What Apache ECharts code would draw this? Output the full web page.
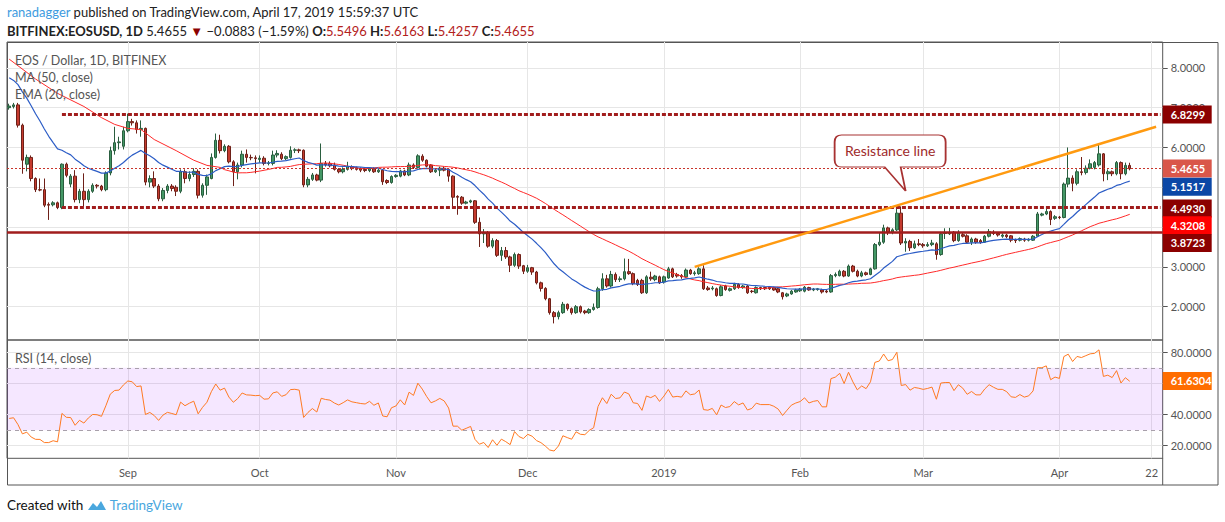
<!DOCTYPE html>
<html>
<head>
<meta charset="utf-8">
<title>EOS / Dollar, 1D</title>
<script src="https://cdn.jsdelivr.net/npm/echarts/dist/echarts.min.js"></script>
<style>
  body { margin: 0; width: 1225px; height: 522px; background: #fff; position: relative; overflow: hidden; font-family: Lato, "Open Sans", sans-serif; }
  #chart { position: absolute; left: 0; top: 0; width: 1225px; height: 522px; }
  .hdr { position: absolute; left: 7px; white-space: nowrap; color: #222; font-size: 13px; line-height: 18px; z-index: 2; }
  .red { color: #b3211b; }
  #ftr { position: absolute; left: 7px; top: 496px; font-size: 13.5px; line-height: 18px; color: #111; white-space: nowrap; z-index: 2; }
  #ftr .tv { color: #4aa7de; }
</style>
</head>
<body>
<div class="hdr" style="top:3px"><span style="color:#3d9be0">ranadagger</span> published on TradingView.com, April 17, 2019 15:59:37 UTC</div>
<div class="hdr" style="top:22px"><b>BITFINEX:EOSUSD, 1D</b> 5.4655 <span style="color:#8b0000">&#9660;</span> &minus;0.0883 (&minus;1.59%) <b>O:</b><span class="red">5.5496</span> <b>H:</b><span class="red">5.6163</span> <b>L:</b><span class="red">5.4257</span> <b>C:</b><span class="red">5.4655</span></div>
<div id="chart"></div>
<div id="ftr">Created with <svg width="20" height="12" viewBox="0 0 20 12" style="vertical-align:-1px"><path d="M1 11 L6 4 L10 8 L14 2 L19 11 Z" fill="#4aa7de"/></svg> <span class="tv">TradingView</span></div>
<script>
// daily candles, 2018-08-05 .. 2019-04-17 (BITFINEX EOSUSD)
const startDay = '2018-08-05';
const slotCount = 263; // visible time range incl. empty space on the right

const opens = [
  7.00,7.03,7.07,6.56,5.58,5.75,5.22,4.94,4.94,4.57,
  4.56,4.61,4.49,5.58,5.08,5.28,4.69,4.90,4.69,4.90,
  5.05,5.03,4.94,5.36,5.92,6.12,6.03,6.42,6.65,6.62,
  6.45,6.48,5.13,5.22,5.03,4.71,4.92,5.03,5.00,4.90,
  5.39,5.22,5.32,5.40,4.80,5.05,5.22,5.75,6.18,5.92,
  6.03,5.64,5.39,5.56,5.83,5.75,5.74,5.70,5.73,5.60,
  5.60,5.81,5.83,5.72,5.75,5.93,5.94,5.93,5.06,5.20,
  5.31,5.18,5.60,5.60,5.56,5.45,5.39,5.45,5.52,5.49,
  5.47,5.45,5.42,5.47,5.39,5.43,5.17,5.12,5.27,5.28,
  5.41,5.31,5.56,5.50,5.78,5.68,5.56,5.39,5.43,5.48,
  5.45,5.28,4.77,4.75,4.60,4.63,4.66,4.12,3.83,3.86,
  3.52,3.66,3.29,3.41,3.25,3.04,3.31,3.03,2.89,2.98,
  2.87,2.60,2.46,2.20,1.85,1.75,1.85,2.06,1.95,1.85,
  2.00,1.89,1.85,1.93,1.98,2.45,2.70,2.52,2.81,2.68,
  2.70,2.88,2.83,2.66,2.66,2.35,2.74,2.68,2.75,2.62,
  2.72,2.95,2.81,2.78,2.75,2.92,2.83,2.83,2.95,2.47,
  2.45,2.45,2.28,2.52,2.41,2.45,2.56,2.48,2.52,2.39,
  2.35,2.48,2.48,2.49,2.48,2.45,2.35,2.27,2.32,2.37,
  2.40,2.39,2.48,2.42,2.43,2.42,2.39,2.37,2.78,2.78,
  2.89,2.77,3.02,2.89,2.77,2.85,2.81,2.95,3.56,3.62,
  3.98,3.87,3.93,4.35,3.60,3.64,3.48,3.58,3.56,3.53,
  3.56,3.58,3.31,3.84,3.83,3.87,3.66,3.81,3.78,3.62,
  3.70,3.66,3.62,3.77,3.87,3.84,3.77,3.80,3.78,3.68,
  3.67,3.70,3.67,3.67,3.77,4.30,4.33,4.39,4.22,4.25,
  4.24,5.08,5.23,5.10,5.39,5.37,5.48,5.50,5.56,5.84,
  5.34,5.39,5.34,5.62,5.34,5.5496
];
const closes = [
  7.04,7.07,6.56,5.68,5.75,5.22,4.94,4.93,4.55,4.55,
  4.61,4.49,5.58,5.30,5.28,4.69,4.90,4.69,4.90,5.05,
  5.03,4.94,5.36,5.92,6.12,6.14,6.42,6.65,6.62,6.45,
  6.48,5.13,5.22,5.03,4.71,4.92,5.03,4.97,4.90,5.39,
  5.22,5.32,5.40,4.80,5.05,5.26,5.75,6.18,5.92,6.03,
  5.64,5.39,5.56,5.83,5.75,5.74,5.72,5.73,5.60,5.61,
  5.81,5.85,5.72,5.77,5.93,5.94,5.92,5.06,5.20,5.31,
  5.18,5.60,5.56,5.54,5.45,5.39,5.45,5.52,5.47,5.45,
  5.43,5.42,5.47,5.39,5.43,5.14,5.12,5.27,5.30,5.41,
  5.31,5.56,5.50,5.79,5.68,5.53,5.39,5.43,5.48,5.43,
  5.28,4.75,4.75,4.60,4.63,4.66,4.12,3.83,3.86,3.52,
  3.66,3.29,3.41,3.25,3.04,3.31,3.02,2.89,2.98,2.87,
  2.60,2.46,2.20,1.85,1.75,1.85,2.06,1.95,1.85,2.00,
  1.87,1.85,1.93,1.98,2.45,2.70,2.52,2.81,2.68,2.70,
  2.88,2.83,2.58,2.56,2.35,2.75,2.70,2.77,2.60,2.75,
  2.95,2.75,2.77,2.75,2.92,2.83,2.85,2.95,2.45,2.43,
  2.47,2.28,2.50,2.43,2.45,2.56,2.48,2.52,2.35,2.38,
  2.48,2.45,2.45,2.45,2.42,2.37,2.25,2.32,2.39,2.42,
  2.44,2.49,2.42,2.44,2.45,2.37,2.37,2.78,2.81,2.89,
  2.77,3.02,2.89,2.77,2.85,2.81,2.95,3.56,3.62,3.98,
  3.87,3.93,4.35,3.60,3.64,3.48,3.58,3.56,3.53,3.56,
  3.60,3.31,3.83,3.85,3.85,3.66,3.85,3.77,3.62,3.70,
  3.62,3.62,3.77,3.89,3.84,3.80,3.80,3.76,3.67,3.66,
  3.71,3.67,3.69,3.77,4.33,4.33,4.39,4.19,4.26,4.24,
  5.08,5.23,5.10,5.39,5.37,5.48,5.59,5.62,5.84,5.34,
  5.39,5.34,5.62,5.34,5.55,5.4655
];
const highs = [
  7.10,7.12,7.12,6.60,5.82,5.80,5.25,5.22,5.22,4.62,
  4.65,4.64,5.60,5.62,5.33,5.43,4.96,5.35,4.95,5.10,
  5.08,5.06,5.40,6.02,6.52,6.27,6.52,6.85,6.72,6.68,
  6.68,6.50,5.30,5.40,5.08,4.98,5.08,5.08,5.05,5.45,
  5.45,5.40,5.48,5.45,5.10,5.32,5.85,6.35,6.32,6.08,
  6.06,5.68,5.62,5.92,5.95,5.82,5.80,5.80,5.78,5.66,
  5.92,5.93,5.88,5.80,6.03,5.98,5.97,5.95,5.26,5.36,
  5.34,6.10,5.66,5.65,5.62,5.48,5.50,5.64,5.55,5.52,
  5.50,5.48,5.50,5.50,5.46,5.46,5.20,5.30,5.33,5.44,
  5.44,5.62,5.60,5.83,5.83,5.70,5.58,5.47,5.52,5.52,
  5.48,5.30,4.80,4.78,4.66,4.69,4.68,4.24,3.95,3.90,
  3.72,3.70,3.50,3.50,3.28,3.36,3.34,3.05,3.05,3.00,
  2.90,2.63,2.49,2.22,1.89,1.90,2.12,2.08,1.98,2.04,
  2.03,1.92,1.96,2.08,2.50,2.84,2.80,2.90,2.86,2.76,
  3.21,3.20,2.86,2.70,2.70,2.79,2.88,2.80,2.78,2.78,
  3.00,2.98,2.85,2.82,2.96,2.95,2.90,2.99,3.04,2.52,
  2.52,2.48,2.54,2.55,2.48,2.60,2.59,2.55,2.55,2.42,
  2.51,2.50,2.50,2.52,2.50,2.47,2.37,2.35,2.42,2.45,
  2.47,2.52,2.50,2.47,2.47,2.45,2.42,2.82,2.86,2.93,
  2.92,3.06,3.05,2.93,2.90,2.88,2.98,3.60,3.85,4.06,
  4.01,3.97,4.52,4.52,3.72,3.68,3.66,3.70,3.60,3.62,
  3.68,3.62,3.88,3.97,3.98,3.90,3.92,3.86,3.82,3.74,
  3.73,3.70,3.80,3.95,3.92,3.87,3.84,3.83,3.80,3.71,
  3.74,3.73,3.72,3.80,4.38,4.36,4.48,4.42,4.30,4.28,
  5.12,6.00,5.30,5.45,5.76,5.55,5.70,5.66,6.11,5.86,
  5.45,5.42,5.66,5.65,5.62,5.6163
];
const lows = [
  6.95,6.98,6.50,5.34,5.40,5.15,4.88,4.90,4.50,4.18,
  4.52,4.45,4.45,5.25,5.00,4.62,4.60,4.52,4.62,4.86,
  4.97,4.90,4.90,5.30,5.82,5.95,5.95,6.38,6.55,6.35,
  6.27,5.05,5.00,4.98,4.65,4.65,4.85,4.90,4.78,4.85,
  5.10,5.15,5.26,4.72,4.74,4.81,5.20,5.72,5.85,5.88,
  5.60,5.03,5.20,5.50,5.62,5.68,5.35,5.62,5.55,5.55,
  5.55,5.75,5.68,5.68,5.72,5.86,5.86,5.00,5.00,5.16,
  5.15,5.13,5.52,5.50,5.42,5.35,5.35,5.42,5.43,5.42,
  5.38,5.38,5.38,5.36,5.36,5.06,5.08,5.09,5.24,5.25,
  5.28,5.28,5.46,5.47,5.64,5.50,5.36,5.36,5.28,5.40,
  5.14,4.47,4.31,4.56,4.57,4.60,4.08,3.50,3.60,3.48,
  3.47,3.25,3.15,3.20,2.87,3.00,2.95,2.82,2.85,2.80,
  2.56,2.38,2.16,1.80,1.58,1.68,1.82,1.90,1.80,1.82,
  1.83,1.81,1.82,1.90,1.95,2.40,2.48,2.48,2.62,2.62,
  2.66,2.80,2.54,2.52,2.32,2.32,2.65,2.64,2.57,2.58,
  2.70,2.72,2.73,2.70,2.72,2.80,2.78,2.80,2.42,2.40,
  2.41,2.25,2.26,2.40,2.38,2.42,2.45,2.45,2.32,2.34,
  2.33,2.42,2.42,2.42,2.40,2.34,2.18,2.24,2.30,2.35,
  2.37,2.36,2.40,2.39,2.40,2.33,2.34,2.35,2.74,2.76,
  2.74,2.75,2.86,2.74,2.74,2.78,2.79,2.93,3.52,3.58,
  3.80,3.82,3.90,3.55,3.38,3.40,3.45,3.52,3.48,3.50,
  3.52,3.18,3.28,3.70,3.80,3.62,3.63,3.74,3.58,3.55,
  3.58,3.58,3.60,3.74,3.80,3.76,3.73,3.72,3.62,3.60,
  3.64,3.63,3.64,3.65,3.75,4.27,4.30,4.05,4.18,4.20,
  4.22,5.00,4.90,5.05,5.30,5.32,5.45,5.45,5.52,5.15,
  5.18,5.28,5.30,5.20,5.30,5.4257
];

// indicator values before enough history is on screen
const ma50Head = [[0, 8.22], [6, 7.72], [11, 7.36], [17, 7.03], [21, 6.75], [24, 6.58],
  [27, 6.48], [30, 6.45], [33, 6.20], [38, 5.92], [42, 5.68], [45, 5.55], [48, 5.50]];
const emaSeed = 7.75;
const rsiSeed = [0.12, 0.20]; // avg gain, avg loss at first bar

// levels and labels
const resistance = [[156, 3.00], [261, 6.52]];
const levelTop = 6.8299, levelMid = 4.4930, levelLow = 3.8723;
const lastClose = 5.4655, lastEma = 5.1517, lastMa = 4.3208, lastRsi = 61.6304;
const priceTicks = [2, 3, 4, 5, 6, 7, 8];
const rsiTicks = [20, 40, 60, 80];
const rsiLabels = [20, 40, 80]; // 60 sits under the last-value tag
const calloutAt = [204, 4.907];

const FONT = 'Lato, "Open Sans", sans-serif';
const months = ['Jan','Feb','Mar','Apr','May','Jun','Jul','Aug','Sep','Oct','Nov','Dec'];

const dates = [];
const t0 = Date.parse(startDay + 'T00:00:00Z');
for (let i = 0; i < slotCount; i++) {
  dates.push(new Date(t0 + i * 86400000).toISOString().slice(0, 10));
}
function isMark(v) { return v.slice(8) === '01' || v === '2019-04-22'; }
function markText(v) {
  if (v === '2019-04-22') return '22';
  const m = +v.slice(5, 7);
  return m === 1 ? v.slice(0, 4) : months[m - 1];
}

const candles = opens.map((o, i) => [o, closes[i], lows[i], highs[i]]);

// EMA 20
const ema20 = [];
let e = emaSeed;
for (let i = 0; i < closes.length; i++) {
  if (i > 0) e = e + (2 / 21) * (closes[i] - e);
  ema20.push(+e.toFixed(4));
}
// MA 50
const ma50 = closes.map(() => null);
ma50Head.forEach(([i, v]) => { ma50[i] = v; });
for (let i = 49; i < closes.length; i++) {
  let s = 0;
  for (let j = i - 49; j <= i; j++) s += closes[j];
  ma50[i] = +(s / 50).toFixed(4);
}
// RSI 14 (Wilder)
const rsi14 = [];
let ag = rsiSeed[0], al = rsiSeed[1];
rsi14.push(+(100 - 100 / (1 + ag / al)).toFixed(2));
for (let i = 1; i < closes.length; i++) {
  const ch = closes[i] - closes[i - 1];
  ag = (ag * 13 + Math.max(ch, 0)) / 14;
  al = (al * 13 + Math.max(-ch, 0)) / 14;
  rsi14.push(+(100 - 100 / (1 + ag / al)).toFixed(2));
}

function tag(text, bg, dy) {
  return {
    show: true, position: 'end', distance: 0, formatter: text,
    color: '#fff', fontWeight: 'bold', fontSize: 11, fontFamily: FONT,
    backgroundColor: bg, padding: [3, 4, 3, 8], width: 37, height: 12, lineHeight: 12,
    offset: [0, dy]
  };
}
const noLine = { color: 'rgba(0,0,0,0)', width: 1, type: 'solid' };
const darkRed = '#a11d1d';

const gridLine = { show: true, lineStyle: { color: '#e6e6e6', width: 1 } };
const xCommon = {
  type: 'category', data: dates, boundaryGap: true,
  axisLine: { show: false }, axisTick: { show: false },
  splitLine: { show: true, interval: (i, v) => isMark(v), alignWithLabel: true, lineStyle: { color: '#e6e6e6' } }
};

const chart = echarts.init(document.getElementById('chart'), null, { renderer: 'svg' });
chart.setOption({
  animation: false,
  backgroundColor: '#fff',
  grid: [
    { left: 7, top: 42, width: 1155.7, height: 298, show: true, borderColor: '#555', borderWidth: 1, outerBoundsMode: 'none', containLabel: false },
    { left: 7, top: 340, width: 1155.7, height: 118.3, show: true, borderColor: '#555', borderWidth: 1, outerBoundsMode: 'none', containLabel: false }
  ],
  xAxis: [
    Object.assign({ gridIndex: 0, axisLabel: { show: false } }, xCommon),
    Object.assign({ gridIndex: 1, axisLabel: { show: true, interval: (i, v) => isMark(v), formatter: markText, color: '#555', fontSize: 11, fontFamily: FONT, margin: 9 } }, xCommon)
  ],
  yAxis: [
    {
      gridIndex: 0, type: 'value', position: 'right', min: 1.163, max: 8.65, scale: true,
      axisLine: { show: false },
      axisTick: { show: true, length: 5, customValues: priceTicks, lineStyle: { color: '#555' } },
      axisLabel: { customValues: priceTicks, formatter: v => v.toFixed(4), color: '#555', fontSize: 11, fontFamily: FONT, margin: 8 },
      splitLine: gridLine
    },
    {
      gridIndex: 1, type: 'value', position: 'right', min: 11.9, max: 87.9,
      axisLine: { show: false },
      axisTick: { show: true, length: 5, customValues: rsiTicks, lineStyle: { color: '#555' } },
      axisLabel: { customValues: rsiLabels, formatter: v => v.toFixed(4), color: '#555', fontSize: 11, fontFamily: FONT, margin: 8 },
      splitLine: gridLine
    }
  ],
  series: [
    {
      name: 'EOSUSD', type: 'candlestick', xAxisIndex: 0, yAxisIndex: 0,
      data: candles, barWidth: 3,
      itemStyle: { color: '#449866', color0: '#c53b2f', borderColor: '#2a5e3f', borderColor0: '#6e2018', borderWidth: 1 }
    },
    {
      name: 'MA (50, close)', type: 'line', xAxisIndex: 0, yAxisIndex: 0,
      data: ma50, connectNulls: true, showSymbol: false, clip: false, z: 3,
      lineStyle: { color: '#ff2a2a', width: 1 },
      markPoint: {
        silent: true,
        symbol: 'path://M7,0 H104 Q111,0 111,7 V25 Q111,32 104,32 H66 L71,56 L50,32 H7 Q0,32 0,25 V7 Q0,0 7,0 Z',
        symbolSize: [111, 56], symbolOffset: [-15.5, -28],
        itemStyle: { color: '#fff', borderColor: '#a83232', borderWidth: 1.3 },
        label: { show: true, position: 'inside', offset: [0, -12], formatter: 'Resistance line', color: '#9e2a2a', fontSize: 14, fontFamily: FONT },
        data: [{ coord: calloutAt }]
      }
    },
    {
      name: 'EMA (20, close)', type: 'line', xAxisIndex: 0, yAxisIndex: 0,
      data: ema20, showSymbol: false, clip: false, z: 3,
      lineStyle: { color: '#2b5cc6', width: 1.2 },
      markLine: {
        silent: true, symbol: ['none', 'none'], label: { show: false },
        data: [
          [{ coord: [12, levelTop] }, { coord: [slotCount - 1, levelTop] }],
          [{ coord: [12, levelMid] }, { coord: [slotCount - 1, levelMid] }],
          { yAxis: levelLow, lineStyle: { color: darkRed, width: 2.5, type: 'solid' } },
          { yAxis: lastClose, lineStyle: { color: '#c8342b', width: 1, type: [2, 2] } },
          [{ coord: resistance[0], lineStyle: { color: '#ff9a10', width: 2.5, type: 'solid' } }, { coord: resistance[1] }],
          { yAxis: levelTop, lineStyle: noLine, label: tag(levelTop.toFixed(4), '#8b0000', 0) },
          { yAxis: lastClose, lineStyle: noLine, label: tag(lastClose.toFixed(4), '#d9574a', 0) },
          { yAxis: lastEma, lineStyle: noLine, label: tag(lastEma.toFixed(4), '#0b47a6', 5.5) },
          { yAxis: levelMid, lineStyle: noLine, label: tag(levelMid.toFixed(4), '#8b0000', 1) },
          { yAxis: lastMa, lineStyle: noLine, label: tag(lastMa.toFixed(4), '#ff0000', 11) },
          { yAxis: levelLow, lineStyle: noLine, label: tag(levelLow.toFixed(4), '#8b0000', 10.7) }
        ],
        lineStyle: { color: darkRed, width: 3, type: [4, 2] }
      }
    },
    {
      name: 'RSI (14, close)', type: 'line', xAxisIndex: 1, yAxisIndex: 1,
      data: rsi14, showSymbol: false, clip: false, z: 3,
      lineStyle: { color: '#ff7a22', width: 1 },
      markArea: { silent: true, itemStyle: { color: 'rgba(153, 21, 255, 0.1)' }, data: [[{ yAxis: 30 }, { yAxis: 70 }]] },
      markLine: {
        silent: true, symbol: ['none', 'none'],
        lineStyle: { color: '#a8a0aa', width: 1, type: [4, 4] },
        label: { show: false },
        data: [
          { yAxis: 70 }, { yAxis: 30 },
          { yAxis: lastRsi, lineStyle: noLine, label: tag(lastRsi.toFixed(4), '#ff6d00', 0) }
        ]
      }
    }
  ],
  graphic: [
    { type: 'rect', shape: { x: 7.5, y: 42.5, width: 1210.5, height: 442.5 }, style: { fill: 'none', stroke: '#555', lineWidth: 1 }, silent: true },
    { type: 'line', shape: { x1: 1162.7, y1: 458, x2: 1162.7, y2: 485 }, style: { stroke: '#555', lineWidth: 1 }, silent: true },
    { type: 'text', x: 15, y: 54, style: { text: 'EOS / Dollar, 1D, BITFINEX', fill: '#555', font: '12.5px ' + FONT }, silent: true, z: 10 },
    { type: 'text', x: 15, y: 71, style: { text: 'MA (50, close)', fill: '#555', font: '12.5px ' + FONT }, silent: true, z: 10 },
    { type: 'text', x: 15, y: 88, style: { text: 'EMA (20, close)', fill: '#555', font: '12.5px ' + FONT }, silent: true, z: 10 },
    { type: 'text', x: 15, y: 352, style: { text: 'RSI (14, close)', fill: '#555', font: '12.5px ' + FONT }, silent: true, z: 10 }
  ]
});
</script>
</body>
</html>
